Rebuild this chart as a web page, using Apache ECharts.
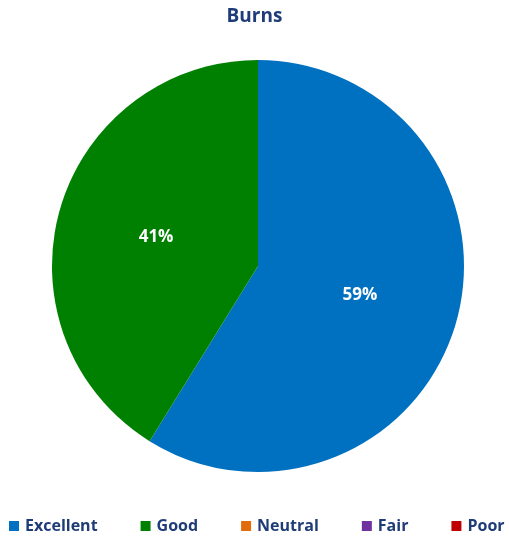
<!DOCTYPE html>
<html>
<head>
<meta charset="utf-8">
<script src="https://cdn.jsdelivr.net/npm/echarts@6/dist/echarts.min.js"></script>
<style>
  html, body { margin: 0; padding: 0; background: #fff; }
  #chart { width: 509px; height: 540px; }
</style>
</head>
<body>
<div id="chart"></div>
<script>
// Burns rating breakdown
var categories = ['Excellent', 'Good', 'Neutral', 'Fair', 'Poor'];
var counts = [10, 7, 0, 0, 0];
var colors = ['#0070C0', '#008000', '#E36C0A', '#7030A0', '#C00000'];

var navy = '#1F3C78';
var font = '"Open Sans", sans-serif';

var pieData = categories.map(function (name, i) {
    return { name: name, value: counts[i], itemStyle: { color: colors[i] } };
});

var myChart = echarts.init(document.getElementById('chart'));
var option = {
    animation: false,
    title: {
        text: 'Burns',
        left: 'center',
        top: 2,
        textStyle: { color: navy, fontFamily: font, fontWeight: 'bold', fontSize: 19 }
    },
    legend: {
        data: categories,
        left: 9,
        bottom: 6,
        padding: 0,
        itemWidth: 10,
        itemHeight: 10,
        itemGap: 43,
        icon: 'rect',
        selectedMode: false,
        textStyle: { color: navy, fontFamily: font, fontWeight: 'bold', fontSize: 16, padding: [0, 0, 0, 1] }
    },
    series: [{
        type: 'pie',
        center: [258, 266],
        radius: 206,
        startAngle: 90,
        clockwise: true,
        showEmptyCircle: false,
        labelLine: { show: false },
        label: {
            position: 'inner',
            color: '#fff',
            fontFamily: font,
            fontWeight: 'bold',
            fontSize: 17,
            formatter: function (p) {
                return p.value > 0 ? Math.round(p.percent) + '%' : '';
            }
        },
        emphasis: { disabled: true },
        data: pieData
    }]
};
myChart.setOption(option);
</script>
</body>
</html>
